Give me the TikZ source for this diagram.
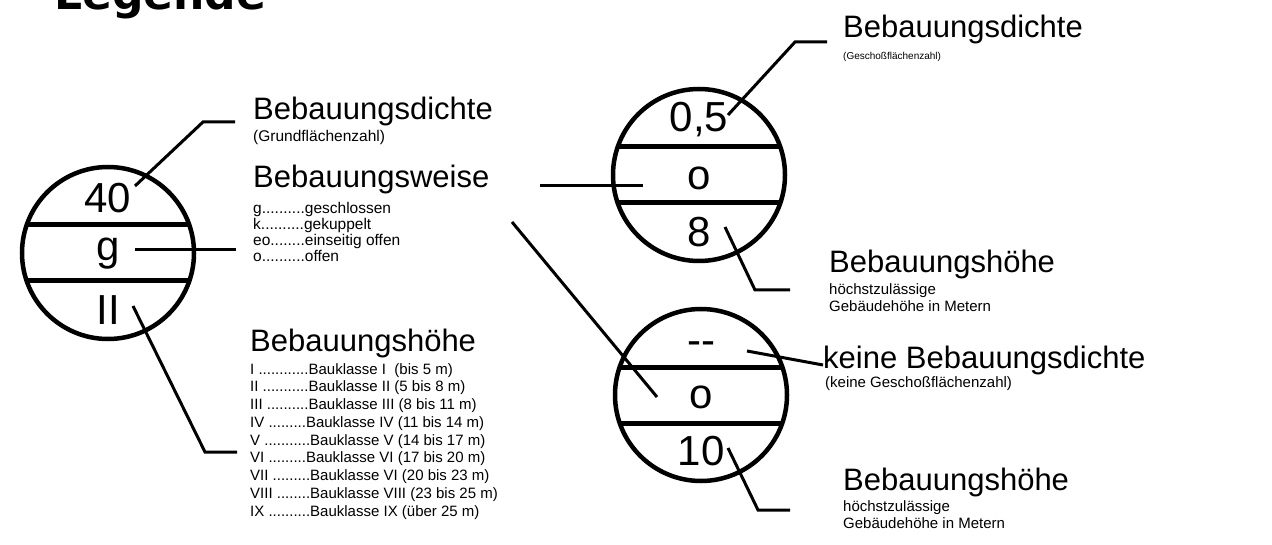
\documentclass[tikz,border=0pt]{standalone}
\usepackage{fontspec}
\setmainfont{Liberation Sans}
\newfontfamily\headfont{DejaVu Sans}
\usetikzlibrary{calc}

\tikzset{
  ring/.style={circle, draw, line width=4.5pt, minimum size=172pt, inner sep=0pt},
  bar/.style={line width=5pt},
  lead/.style={line width=3pt},
  sym/.style={font=\fontsize{42}{46}\selectfont, inner sep=0pt, anchor=base},
  big/.style={font=\fontsize{31}{35}\selectfont, inner sep=0pt, anchor=base west},
  small/.style={font=\fontsize{15.5}{17}\selectfont, inner sep=0pt, anchor=base west},
  classes/.style={font=\fontsize{15}{17}\selectfont, inner sep=0pt, anchor=base west},
  tiny/.style={font=\fontsize{15}{17}\selectfont, inner sep=0pt, anchor=base west},
  wee/.style={font=\fontsize{10}{12}\selectfont, inner sep=0pt, anchor=base west},
}

\begin{document}
\begin{tikzpicture}[x=1pt, y=-1pt]
\useasboundingbox (0,0) rectangle (1272,545);

% title
\node[inner sep=0pt, anchor=base west, font=\headfont\bfseries\fontsize{44}{48}\selectfont] (title) at (54,10) {Legende};

% ---- symbol circles with their three fields
\node[ring] (c1) at (108,253) {};
\node[ring] (c2) at (699,175) {};
\node[ring] (c3) at (701,395) {};
\foreach \c in {c1,c2,c3} {
  \draw[bar] ($(\c)+(-81,-28)$) -- ($(\c)+(81,-28)$);
  \draw[bar] ($(\c)+(-81,28)$) -- ($(\c)+(81,28)$);
}

\node[sym] (t40) at ($(c1)+(0,-40)$) {40};
\node[sym] (tg)  at ($(c1)+(0,8)$) {g};
\node[sym] (tII) at ($(c1)+(0,72)$) {II};

\node[sym] (t05) at ($(c2)+(0,-43)$) {0,5};
\node[sym] (to1) at ($(c2)+(0,15)$) {o};
\node[sym] (t8)  at ($(c2)+(0,72)$) {8};

\node[sym] (tdash) at ($(c3)+(0,-40)$) {-{}-};
\node[sym] (to2)   at ($(c3)+(0,13)$) {o};
\node[sym] (t10)   at ($(c3)+(0,70)$) {10};

% ---- left labels
\node[big]   (dichteL) at (253,120) {Bebauungsdichte};
\node[small] (gfz)     at (253,142) {(Grundflächenzahl)};

\node[big]   (weise) at (253,188) {Bebauungsweise};
\node[small] (w1) at (253,214) {g..........geschlossen};
\node[small] (w2) at (253,230) {k..........gekuppelt};
\node[small] (w3) at (253,246) {eo........einseitig offen};
\node[small] (w4) at (253,262) {o..........offen};

\node[big]     (hoeheL) at (250,352) {Bebauungshöhe};
\node[classes] (k1) at (250,374.00) {I ............Bauklasse I\ \ (bis 5 m)};
\node[classes] (k2) at (250,391.75) {II ...........Bauklasse II (5 bis 8 m)};
\node[classes] (k3) at (250,409.50) {III ..........Bauklasse III (8 bis 11 m)};
\node[classes] (k4) at (250,427.25) {IV .........Bauklasse IV (11 bis 14 m)};
\node[classes] (k5) at (250,445.00) {V ...........Bauklasse V (14 bis 17 m)};
\node[classes] (k6) at (250,462.75) {VI .........Bauklasse VI (17 bis 20 m)};
\node[classes] (k7) at (250,480.50) {VII .........Bauklasse VI (20 bis 23 m)};
\node[classes] (k8) at (250,498.25) {VIII ........Bauklasse VIII (23 bis 25 m)};
\node[classes] (k9) at (250,516.00) {IX ..........Bauklasse IX (über 25 m)};

% ---- right labels
\node[big] (dichteR) at (843,38) {Bebauungsdichte};
\node[wee] (gfzR)    at (843,60) {(Geschoßflächenzahl)};

\node[big]  (hoeheR1) at (829,273) {Bebauungshöhe};
\node[tiny] (hz1a)    at (829,295) {höchstzulässige};
\node[tiny] (hz1b)    at (829,312) {Gebäudehöhe in Metern};

\node[big]  (keine)  at (823,368) {keine Bebauungsdichte};
\node[tiny] (keineS) at (825,388) {(keine Geschoßflächenzahl)};

\node[big]  (hoeheR2) at (843,490) {Bebauungshöhe};
\node[tiny] (hz2a)    at (843,511) {höchstzulässige};
\node[tiny] (hz2b)    at (843,528) {Gebäudehöhe in Metern};

% ---- leader lines
\coordinate (a1) at (135,186);
\coordinate (e1) at (235,122);
\draw[lead] (a1) -- (203,122) -- (e1);

\coordinate (a2) at (135,250);
\coordinate (e2) at (236,250);
\draw[lead] (a2) -- (e2);

\coordinate (a3) at (133,306);
\coordinate (e3) at (237,452);
\draw[lead] (a3) -- (205,452) -- (e3);

\coordinate (a4) at (540,186);
\coordinate (e4) at (643,186);
\draw[lead] (a4) -- (e4);

\coordinate (a5) at (512,222);
\coordinate (e5) at (657,397);
\draw[lead] (a5) -- (e5);

\coordinate (a6) at (728,115);
\coordinate (e6) at (827,42);
\draw[lead] (a6) -- (795,42) -- (e6);

\coordinate (a7) at (725,227);
\coordinate (e7) at (790,290);
\draw[lead] (a7) -- (755,290) -- (e7);

\coordinate (a8) at (747,351);
\coordinate (e8) at (823,365);
\draw[lead] (a8) -- (e8);

\coordinate (a9) at (728,448);
\coordinate (e9) at (790,510);
\draw[lead] (a9) -- (758,510) -- (e9);
\end{tikzpicture}
\end{document}
